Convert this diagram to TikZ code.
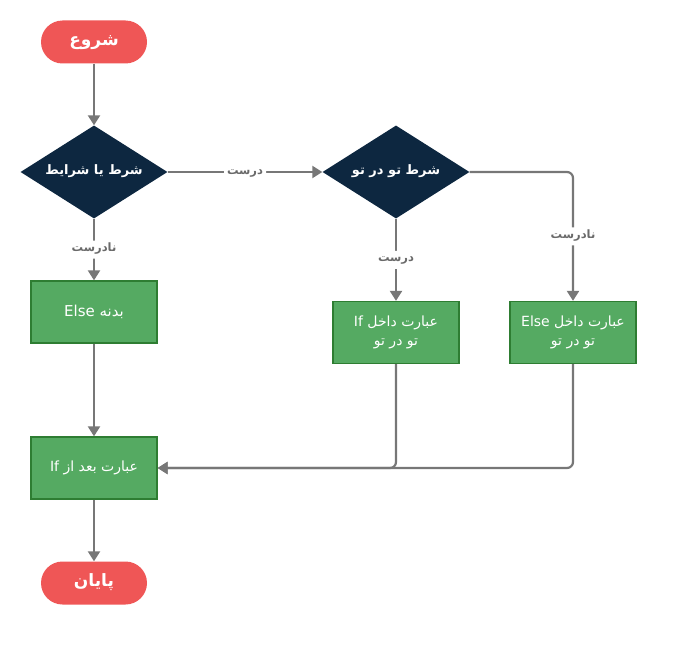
\documentclass[tikz,border=0pt]{standalone}
\usepackage{fontspec}
\usetikzlibrary{shapes.geometric,arrows.meta}
\TeXXeTstate=1
\newfontfamily\arabicfont[Script=Arabic]{DejaVu Sans}
\definecolor{termred}{HTML}{EF5656}
\definecolor{decnavy}{HTML}{0D2740}
\definecolor{boxgreen}{HTML}{55AA62}
\definecolor{boxedge}{HTML}{2E7D32}
\definecolor{linegray}{HTML}{777777}
\definecolor{labelgray}{HTML}{6A6A6A}
\tikzset{
  term/.style={rectangle, rounded corners=21.5pt, fill=termred, draw=none,
    minimum width=106pt, minimum height=43pt, inner sep=0pt, text=white,
    text height=12pt, text depth=5pt,
    font=\arabicfont\bfseries\fontsize{17}{20}\selectfont},
  decision/.style={diamond, aspect=1.58, fill=decnavy, draw=none,
    minimum width=147pt, minimum height=93pt, inner sep=0pt, text=white,
    text height=9pt, text depth=4pt,
    font=\arabicfont\bfseries\fontsize{13}{16}\selectfont},
  stmt/.style={rectangle, fill=boxgreen, draw=boxedge, line width=1.3pt,
    minimum width=126pt, minimum height=62pt, inner sep=2pt, text=white,
    align=center, font=\arabicfont\fontsize{14}{19}\selectfont},
  conn/.style={draw=linegray, line width=2.2pt, rounded corners=6pt,
    -{Triangle[width=12pt,length=10pt]}},
  lbl/.style={fill=white, inner sep=3pt, text=labelgray,
    text height=8pt, text depth=4pt,
    font=\arabicfont\bfseries\fontsize{11.5}{14}\selectfont}
}
\begin{document}
\begin{tikzpicture}[x=1pt,y=-1pt]
\useasboundingbox (0,0) rectangle (700,650);
\node[term] (start) at (94,42) {\beginR شروع\endR};
\node[decision] (d1) at (94,172) {\beginR شرط یا شرایط\endR};
\node[decision] (d2) at (396,172) {\beginR شرط تو در تو\endR};
\node[stmt, font=\arabicfont\fontsize{15}{19}\selectfont] (else) at (94,312) {\beginR بدنه \beginL Else\endL\endR};
\node[stmt] (nif) at (396,332.5) {\beginR عبارت داخل \beginL If\endL\endR\\\beginR تو در تو\endR};
\node[stmt] (nelse) at (573,332.5) {\beginR عبارت داخل \beginL Else\endL\endR\\\beginR تو در تو\endR};
\node[stmt] (after) at (94,468) {\beginR عبارت بعد از \beginL If\endL\endR};
\node[term] (stop) at (94,583) {\beginR پایان\endR};

\draw[conn] (start.south) -- (d1.north);
\draw[conn] (d1.east) -- node[lbl]{\beginR درست\endR} (d2.west);
\draw[conn] (d1.south) -- node[lbl]{\beginR نادرست\endR} (else.north);
\draw[conn] (d2.south) -- node[lbl]{\beginR درست\endR} (nif.north);
\draw[conn] (d2.east) -| node[lbl, pos=0.75]{\beginR نادرست\endR} (nelse.north);
\draw[conn] (else.south) -- (after.north);
\draw[conn] (nif.south) |- (after.east);
\draw[conn] (nelse.south) |- (after.east);
\draw[conn] (after.south) -- (stop.north);
\end{tikzpicture}
\end{document}
